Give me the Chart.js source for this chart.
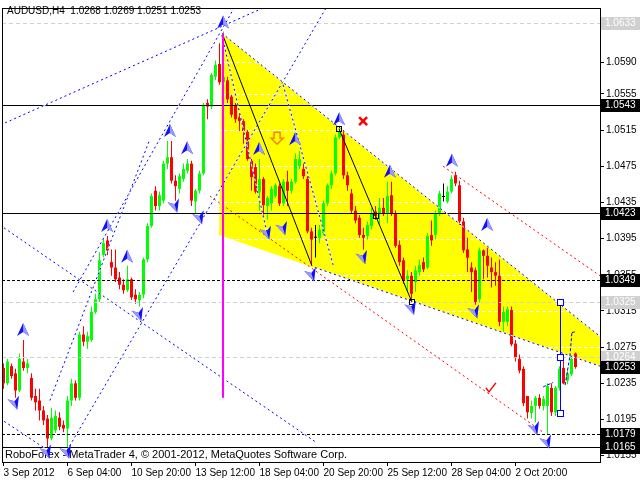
<!DOCTYPE html>
<html>
<head>
<meta charset="utf-8">
<script src="https://cdn.jsdelivr.net/npm/chart.js@4.4.0/dist/chart.umd.min.js"></script>
<style>
html, body { margin: 0; padding: 0; background: #fff; }
#wrap { width: 640px; height: 480px; }
</style>
</head>
<body>
<div id="wrap"><canvas id="grafico" width="640" height="480"></canvas></div>
<script>
// AUDUSD H4 candles
var opens = [1.0252,1.0235,1.0254,1.0246,1.0227,1.0259,1.0252,1.0241,1.0221,1.0216,
  1.0205,1.0196,1.0174,1.0183,1.0197,1.0189,1.0185,1.0216,1.0235,1.0219,
  1.0289,1.0281,1.0283,1.0314,1.0328,1.0377,1.0393,1.0369,1.0363,1.0352,
  1.0344,1.0338,1.0350,1.0333,1.0327,1.0333,1.0372,1.0409,1.0448,1.0431,
  1.0437,1.0478,1.0485,1.0459,1.0450,1.0461,1.0470,1.0478,1.0436,1.0448,
  1.0467,1.0545,1.0541,1.0574,1.0588,1.0568,1.0570,1.0552,1.0543,1.0529,
  1.0525,1.0513,1.0481,1.0474,1.0447,1.0461,1.0431,1.0434,1.0442,1.0453,
  1.0434,1.0458,1.0448,1.0458,1.0475,1.0472,1.0461,1.0403,1.0396,1.0396,
  1.0401,1.0434,1.0454,1.0467,1.0507,1.0510,1.0465,1.0445,1.0426,1.0418,
  1.0399,1.0398,1.0409,1.0425,1.0423,1.0429,1.0423,1.0443,1.0423,1.0388,
  1.0371,1.0350,1.0354,1.0347,1.0358,1.0369,1.0363,1.0399,1.0399,1.0423,
  1.0441,1.0436,1.0447,1.0465,1.0454,1.0414,1.0383,1.0363,1.0360,1.0328,
  1.0382,1.0376,1.0363,1.0358,1.0354,1.0303,1.0303,1.0316,1.0279,1.0262,
  1.0251,1.0221,1.0202,1.0210,1.0219,1.0210,1.0210,1.0230,1.0203,1.0230,
  1.0252,1.0238,1.0245,1.0268];
var highs = [1.0257,1.0262,1.0257,1.0251,1.0268,1.0283,1.0262,1.0246,1.0229,1.0229,
  1.0210,1.0200,1.0208,1.0205,1.0203,1.0194,1.0221,1.0240,1.0238,1.0292,
  1.0298,1.0292,1.0320,1.0334,1.0380,1.0396,1.0398,1.0383,1.0383,1.0358,
  1.0350,1.0365,1.0352,1.0339,1.0336,1.0374,1.0412,1.0445,1.0453,1.0447,
  1.0481,1.0503,1.0503,1.0465,1.0467,1.0478,1.0483,1.0481,1.0450,1.0470,
  1.0545,1.0549,1.0578,1.0592,1.0611,1.0624,1.0574,1.0554,1.0545,1.0535,
  1.0527,1.0515,1.0483,1.0478,1.0483,1.0463,1.0442,1.0453,1.0456,1.0456,
  1.0461,1.0470,1.0461,1.0489,1.0492,1.0478,1.0464,1.0407,1.0410,1.0410,
  1.0437,1.0456,1.0470,1.0510,1.0519,1.0514,1.0469,1.0450,1.0431,1.0421,
  1.0407,1.0414,1.0429,1.0431,1.0440,1.0440,1.0458,1.0458,1.0426,1.0393,
  1.0374,1.0360,1.0358,1.0365,1.0372,1.0374,1.0401,1.0415,1.0426,1.0448,
  1.0456,1.0453,1.0465,1.0469,1.0459,1.0418,1.0396,1.0369,1.0363,1.0385,
  1.0383,1.0385,1.0374,1.0369,1.0372,1.0320,1.0320,1.0320,1.0283,1.0267,
  1.0254,1.0221,1.0216,1.0221,1.0223,1.0221,1.0235,1.0235,1.0232,1.0254,
  1.0268,1.0251,1.0265,1.0269];
var lows = [1.0229,1.0233,1.0240,1.0219,1.0225,1.0249,1.0246,1.0216,1.0205,1.0194,
  1.0189,1.0164,1.0172,1.0180,1.0183,1.0181,1.0164,1.0210,1.0216,1.0216,
  1.0276,1.0273,1.0281,1.0312,1.0325,1.0374,1.0377,1.0354,1.0347,1.0339,
  1.0334,1.0336,1.0327,1.0323,1.0320,1.0329,1.0369,1.0407,1.0426,1.0426,
  1.0434,1.0472,1.0456,1.0437,1.0445,1.0458,1.0467,1.0431,1.0423,1.0445,
  1.0465,1.0527,1.0538,1.0570,1.0565,1.0563,1.0545,1.0529,1.0523,1.0514,
  1.0500,1.0481,1.0448,1.0445,1.0426,1.0418,1.0416,1.0426,1.0440,1.0431,
  1.0431,1.0431,1.0445,1.0456,1.0472,1.0461,1.0401,1.0365,1.0374,1.0390,
  1.0399,1.0431,1.0450,1.0465,1.0505,1.0461,1.0448,1.0423,1.0412,1.0396,
  1.0383,1.0394,1.0405,1.0416,1.0410,1.0420,1.0412,1.0420,1.0385,1.0365,
  1.0345,1.0336,1.0327,1.0336,1.0354,1.0358,1.0361,1.0387,1.0394,1.0420,
  1.0436,1.0434,1.0445,1.0453,1.0410,1.0379,1.0358,1.0336,1.0322,1.0325,
  1.0350,1.0352,1.0341,1.0343,1.0298,1.0292,1.0298,1.0276,1.0259,1.0246,
  1.0210,1.0196,1.0196,1.0192,1.0207,1.0205,1.0178,1.0199,1.0199,1.0227,
  1.0234,1.0234,1.0243,1.0251];
var closes = [1.0235,1.0259,1.0243,1.0227,1.0262,1.0252,1.0257,1.0219,1.0214,1.0205,
  1.0194,1.0174,1.0197,1.0199,1.0187,1.0185,1.0216,1.0235,1.0219,1.0289,
  1.0281,1.0287,1.0314,1.0328,1.0371,1.0390,1.0382,1.0363,1.0350,1.0344,
  1.0338,1.0350,1.0330,1.0328,1.0333,1.0372,1.0409,1.0442,1.0431,1.0443,
  1.0478,1.0485,1.0459,1.0453,1.0464,1.0472,1.0478,1.0437,1.0448,1.0467,
  1.0543,1.0541,1.0576,1.0587,1.0568,1.0574,1.0549,1.0532,1.0527,1.0525,
  1.0514,1.0483,1.0463,1.0447,1.0461,1.0432,1.0440,1.0450,1.0454,1.0434,
  1.0458,1.0448,1.0458,1.0483,1.0483,1.0464,1.0403,1.0394,1.0396,1.0405,
  1.0434,1.0454,1.0467,1.0507,1.0513,1.0465,1.0454,1.0426,1.0415,1.0399,
  1.0396,1.0410,1.0423,1.0420,1.0429,1.0423,1.0442,1.0423,1.0387,1.0369,
  1.0349,1.0354,1.0334,1.0360,1.0366,1.0361,1.0398,1.0393,1.0423,1.0445,
  1.0441,1.0447,1.0461,1.0456,1.0414,1.0382,1.0374,1.0358,1.0325,1.0382,
  1.0376,1.0365,1.0358,1.0354,1.0303,1.0314,1.0317,1.0278,1.0263,1.0249,
  1.0213,1.0203,1.0210,1.0219,1.0210,1.0218,1.0232,1.0203,1.0230,1.0251,
  1.0235,1.0246,1.0262,1.0253];

var tickBars = [0, 16, 32, 48, 64, 80, 96, 112, 128];
var tickLabels = ['3 Sep 2012', '6 Sep 04:00', '10 Sep 20:00', '13 Sep 12:00', '18 Sep 04:00',
  '20 Sep 20:00', '25 Sep 12:00', '28 Sep 04:00', '2 Oct 20:00'];
var priceTicks = [1.0630, 1.0590, 1.0555, 1.0515, 1.0475, 1.0435, 1.0395, 1.0355,
  1.0315, 1.0275, 1.0235, 1.0195, 1.0155];

// horizontal levels and the price tags on the right
var levelPrices = [1.0633, 1.0543, 1.0423, 1.0349, 1.0325, 1.0264, 1.0179, 1.0165];
var tagPrices = [1.0633, 1.0543, 1.0423, 1.0349, 1.0325, 1.0264, 1.0253, 1.0179, 1.0165];

// drawn objects, [bar, price, bar, price]
var yellowTriangle = [[54.6, 1.0622], [53.9, 1.0399], [165.6, 1.0229]];
var blueLines = [
  [0.4, 1.0523, 65.9, 1.0652],
  [15.9, 1.0161, 80.9, 1.0652],
  [11.6, 1.0216, 36.6, 1.0505],
  [17.4, 1.0336, 57.9, 1.0652],
  [-0.9, 1.0410, 78.4, 1.0169],
  [-0.9, 1.0196, 10.4, 1.0163],
  [54.6, 1.0620, 65.9, 1.0401],
  [69.9, 1.0565, 82.4, 1.0366],
  [54.6, 1.0622, 149.1, 1.0287],
  [77.9, 1.0363, 149.1, 1.0254]
];
var redLines = [[51.6, 1.0442, 134.9, 1.0181], [109.9, 1.0475, 149.1, 1.0354]];
var blackLines = [[54.9, 1.0619, 77.1, 1.0365], [83.9, 1.0516, 102.1, 1.0325]];
var magentaLine = [55, 1.0622, 55, 1.0219];
var blueVertical = [139, 1.0325, 139, 1.0202];
var forecastPath = [[140.4, 1.0233], [141.6, 1.0265], [142.1, 1.0291], [142.9, 1.0292]];
var forecastStub = [[134.9, 1.0231], [137.4, 1.0236]];

var upMarks = [[4.9, 1.0294], [25.9, 1.0409], [30.9, 1.0375], [41.6, 1.0514], [45.9, 1.0495],
  [54.9, 1.0634], [63.9, 1.0494], [72.9, 1.0505], [83.9, 1.0527], [96.6, 1.0469],
  [112.1, 1.0481], [120.9, 1.0410]];
var downMarks = [[2.9, 1.0213], [10.9, 1.0159], [15.9, 1.0159], [33.9, 1.0311], [42.9, 1.0431],
  [49.1, 1.0418], [65.9, 1.0401], [69.9, 1.0406], [77.1, 1.0355], [89.9, 1.0374],
  [102.1, 1.0318], [117.9, 1.0314], [132.9, 1.0185], [135.9, 1.0170]];
var sellArrow = [68.4, 1.0506];
var crossMark = [89.9, 1.0525];
var checkMark = [121.6, 1.0230];

var bars = closes.map(function (c, i) { return i; });

function candleColor(i) {
  if (closes[i] === opens[i]) return '#000000';
  return closes[i] > opens[i] ? '#00ff00' : '#ff0000';
}

var FONT = '"Liberation Sans", Arial, sans-serif';

function seg(ctx, x1, y1, x2, y2, color, dash, opaque) {
  ctx.save();
  ctx.lineWidth = 1;
  if (opaque) {
    ctx.strokeStyle = '#ffffff';
    ctx.setLineDash([]);
    ctx.beginPath(); ctx.moveTo(x1, y1); ctx.lineTo(x2, y2); ctx.stroke();
  }
  ctx.strokeStyle = color;
  ctx.setLineDash(dash);
  ctx.beginPath(); ctx.moveTo(x1, y1); ctx.lineTo(x2, y2); ctx.stroke();
  ctx.restore();
}

function dart(ctx, x, y, angle) {
  ctx.save();
  ctx.translate(x, y);
  ctx.rotate(angle);
  ctx.beginPath();
  ctx.moveTo(0, -7); ctx.lineTo(6, 6); ctx.lineTo(0, 2); ctx.lineTo(-6, 6); ctx.closePath();
  ctx.fillStyle = '#1010ff';
  ctx.fill();
  ctx.beginPath();
  ctx.moveTo(0, -7); ctx.lineTo(6, 6); ctx.lineTo(0, 2); ctx.closePath();
  ctx.fillStyle = '#9a9aff';
  ctx.fill();
  ctx.restore();
}

var mt4 = {
  id: 'mt4',
  beforeDraw: function (chart) {
    var ctx = chart.ctx, a = chart.chartArea, sx = chart.scales.x, sy = chart.scales.y;
    ctx.save();
    ctx.fillStyle = '#ffffff';
    ctx.fillRect(0, 0, chart.width, chart.height);
    ctx.beginPath();
    ctx.rect(a.left, a.top, a.right - a.left, a.bottom - a.top);
    ctx.clip();
    ctx.beginPath();
    yellowTriangle.forEach(function (p, k) {
      var x = sx.getPixelForValue(p[0]), y = sy.getPixelForValue(p[1]);
      if (k === 0) ctx.moveTo(x, y); else ctx.lineTo(x, y);
    });
    ctx.closePath();
    ctx.fillStyle = '#ffff00';
    ctx.fill();
    ctx.restore();
  },
  beforeDatasetsDraw: function (chart) {
    var ctx = chart.ctx, a = chart.chartArea, sy = chart.scales.y;
    ctx.save();
    ctx.strokeStyle = '#ffffff';
    ctx.lineWidth = 1;
    ctx.setLineDash([4, 2]);
    priceTicks.forEach(function (p) {
      var y = Math.round(sy.getPixelForValue(p)) + 0.5;
      ctx.beginPath(); ctx.moveTo(a.left, y); ctx.lineTo(a.right, y); ctx.stroke();
    });
    ctx.restore();
  },
  afterDatasetsDraw: function (chart) {
    var ctx = chart.ctx, a = chart.chartArea, sx = chart.scales.x, sy = chart.scales.y;
    function X(b) { return sx.getPixelForValue(b); }
    function Y(p) { return sy.getPixelForValue(p); }
    ctx.save();
    ctx.beginPath();
    ctx.rect(a.left, a.top, a.right - a.left, a.bottom - a.top);
    ctx.clip();

    // horizontal levels
    var levelStyle = [
      ['#d0d0d0', [4, 3]], ['#000000', []], ['#000000', []], ['#000000', [3, 2]],
      ['#d0d0d0', [4, 3]], ['#d0d0d0', [4, 3]], ['#000000', [3, 2]], ['#000000', []]
    ];
    levelPrices.forEach(function (p, k) {
      var y = Math.round(Y(p)) + 0.5;
      seg(ctx, a.left, y, a.right, y, levelStyle[k][0], levelStyle[k][1], false);
    });

    redLines.forEach(function (l) { seg(ctx, X(l[0]), Y(l[1]), X(l[2]), Y(l[3]), '#ff0000', [2, 3], false); });
    blueLines.forEach(function (l) { seg(ctx, X(l[0]), Y(l[1]), X(l[2]), Y(l[3]), '#0000ff', [2, 3], true); });
    blackLines.forEach(function (l) { seg(ctx, X(l[0]), Y(l[1]), X(l[2]), Y(l[3]), '#000000', [], false); });

    // magenta vertical
    ctx.fillStyle = '#ff00ff';
    var mx = X(magentaLine[0]);
    ctx.fillRect(Math.round(mx) - 1, Y(magentaLine[1]), 2, Y(magentaLine[3]) - Y(magentaLine[1]));

    // selected blue vertical with handles
    var bx = Math.round(X(blueVertical[0])) + 0.5;
    seg(ctx, bx, Y(blueVertical[1]), bx, Y(blueVertical[3]), '#0000ff', [], false);
    ctx.strokeStyle = '#0000ff';
    [blueVertical[1], 1.0264, blueVertical[3]].forEach(function (p) {
      ctx.fillStyle = '#ffffff';
      ctx.fillRect(bx - 3, Math.round(Y(p)) - 3, 6, 6);
      ctx.strokeRect(bx - 3, Math.round(Y(p)) - 2.5, 6, 6);
    });
    // black trendline handles
    var k2 = blackLines[1];
    [[k2[0], k2[1]], [(k2[0] + k2[2]) / 2, (k2[1] + k2[3]) / 2], [k2[2], k2[3]]].forEach(function (p) {
      ctx.strokeStyle = '#000000';
      ctx.strokeRect(Math.round(X(p[0])) - 2.5, Math.round(Y(p[1])) - 2.5, 5, 5);
    });

    // forecast dashes
    [forecastPath, forecastStub].forEach(function (path) {
      for (var i = 1; i < path.length; i++) {
        seg(ctx, X(path[i - 1][0]), Y(path[i - 1][1]), X(path[i][0]), Y(path[i][1]), '#0000ff', [3, 2], false);
      }
    });

    // footer text
    ctx.fillStyle = '#000000';
    ctx.font = '11px ' + FONT;
    ctx.textBaseline = 'middle';
    ctx.textAlign = 'left';
    ctx.fillText('RoboForex - MetaTrader 4, \u00a9 2001-2012, MetaQuotes Software Corp.', 5, 455);

    // wave markers
    upMarks.forEach(function (m) { dart(ctx, X(m[0]), Y(m[1]), 0); });
    downMarks.forEach(function (m) { dart(ctx, X(m[0]), Y(m[1]), Math.PI * 0.9); });

    // orange sell arrow
    var ox = X(sellArrow[0]), oy = Y(sellArrow[1]);
    ctx.beginPath();
    ctx.moveTo(ox - 3, oy - 6); ctx.lineTo(ox + 3, oy - 6); ctx.lineTo(ox + 3, oy);
    ctx.lineTo(ox + 6, oy); ctx.lineTo(ox, oy + 6); ctx.lineTo(ox - 6, oy); ctx.lineTo(ox - 3, oy);
    ctx.closePath();
    ctx.strokeStyle = '#ff8000';
    ctx.lineWidth = 1.5;
    ctx.stroke();

    // red cross and tick
    var cx = X(crossMark[0]), cy = Y(crossMark[1]);
    ctx.strokeStyle = '#ff0000';
    ctx.lineWidth = 2.5;
    ctx.beginPath();
    ctx.moveTo(cx - 4, cy - 4); ctx.lineTo(cx + 4, cy + 4);
    ctx.moveTo(cx + 4, cy - 4); ctx.lineTo(cx - 4, cy + 4);
    ctx.stroke();
    var tx = X(checkMark[0]), ty = Y(checkMark[1]);
    ctx.lineWidth = 1.5;
    ctx.beginPath();
    ctx.moveTo(tx - 4, ty); ctx.lineTo(tx - 1, ty + 4); ctx.lineTo(tx + 6, ty - 5);
    ctx.stroke();
    ctx.restore();

    // frame
    ctx.save();
    ctx.strokeStyle = '#000000';
    ctx.lineWidth = 1;
    ctx.strokeRect(a.left + 0.5, a.top + 0.5, a.right - a.left, a.bottom - a.top);
    ctx.restore();
  },
  afterDraw: function (chart) {
    var ctx = chart.ctx, a = chart.chartArea, sy = chart.scales.y;
    ctx.save();
    ctx.font = '10px ' + FONT;
    ctx.textBaseline = 'middle';
    ctx.textAlign = 'left';
    var grey = [1.0633, 1.0325, 1.0264];
    tagPrices.forEach(function (p) {
      var y = Math.round(sy.getPixelForValue(p));
      ctx.fillStyle = grey.indexOf(p) >= 0 ? '#d0d0d0' : '#000000';
      ctx.fillRect(a.right + 1, y - 6, 39, 13);
      ctx.fillStyle = '#ffffff';
      ctx.fillText(p.toFixed(4), a.right + 5, y + 0.5);
    });
    var n = closes.length - 1;
    ctx.fillStyle = '#000000';
    ctx.fillText('AUDUSD,H4  ' + [opens[n], highs[n], lows[n], closes[n]].map(function (v) {
      return v.toFixed(4);
    }).join(' '), 7, 11);
    ctx.restore();
  }
};

var ctx = document.getElementById('grafico').getContext('2d');
var myChart = new Chart(ctx, {
  type: 'bar',
  data: {
    datasets: [{
      label: 'body',
      data: bars.map(function (i) { return { x: i, y: [opens[i], closes[i]] }; }),
      backgroundColor: bars.map(candleColor),
      borderWidth: 0,
      barThickness: 3,
      minBarLength: 1,
      inflateAmount: 0,
      grouped: false,
      order: 1
    }, {
      label: 'wick',
      data: bars.map(function (i) { return { x: i, y: [lows[i], highs[i]] }; }),
      backgroundColor: bars.map(candleColor),
      borderWidth: 0,
      barThickness: 1,
      inflateAmount: 0,
      grouped: false,
      order: 2
    }]
  },
  options: {
    responsive: false,
    animation: false,
    layout: { padding: { left: 2, top: 2, right: 0, bottom: 0 } },
    plugins: {
      legend: { display: false },
      tooltip: { enabled: false }
    },
    scales: {
      x: {
        type: 'linear',
        offset: false,
        min: -0.375,
        max: 149.125,
        afterBuildTicks: function (s) { s.ticks = tickBars.map(function (v) { return { value: v }; }); },
        afterFit: function (s) { s.height = 18; },
        grid: { offset: false, drawOnChartArea: false, tickLength: 4, tickColor: '#000000' },
        border: { display: false },
        ticks: {
          autoSkip: false,
          maxRotation: 0,
          align: 'start',
          padding: 1,
          color: '#000000',
          font: { family: FONT, size: 10 },
          callback: function (v, idx) { return tickLabels[idx]; }
        }
      },
      y: {
        type: 'linear',
        position: 'right',
        min: 1.0148,
        max: 1.0650,
        afterBuildTicks: function (s) { s.ticks = priceTicks.map(function (v) { return { value: v }; }); },
        afterFit: function (s) { s.width = 40; },
        grid: { drawOnChartArea: false, tickLength: 4, tickColor: '#000000' },
        border: { display: false },
        ticks: {
          autoSkip: false,
          padding: 2,
          color: '#000000',
          font: { family: FONT, size: 10 },
          callback: function (v) { return v.toFixed(4); }
        }
      }
    }
  },
  plugins: [mt4]
});
</script>
</body>
</html>
